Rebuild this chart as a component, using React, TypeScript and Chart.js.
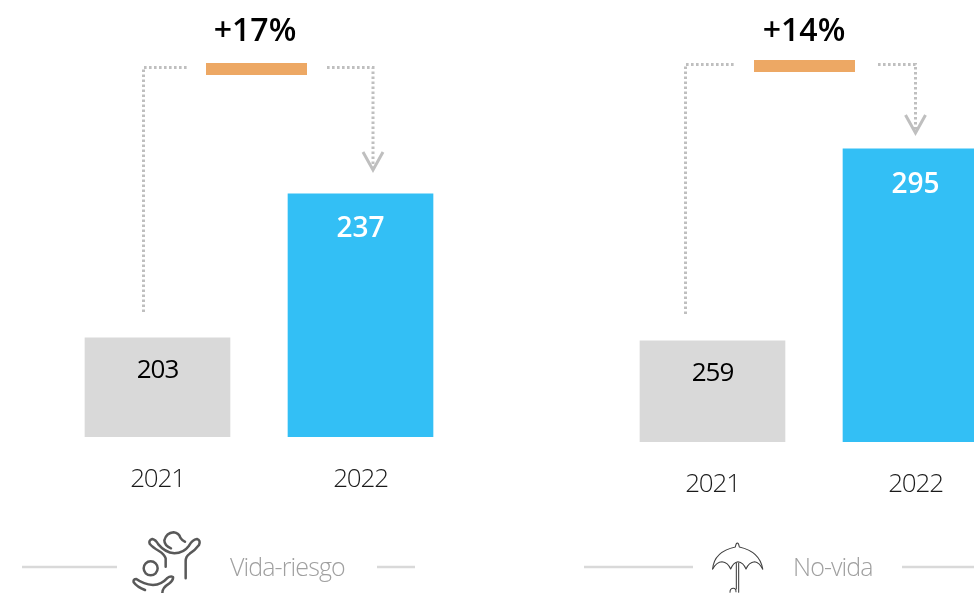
import React, { useEffect, useRef } from "react";
import { Chart, registerables } from "chart.js";

Chart.register(...registerables);

const FONT = '"Open Sans", "Noto Sans", sans-serif';

const categories = ["2021", "2022"];
const vidaValues = [203, 237];
const noVidaValues = [259, 295];
const barColors = ["#D9D9D9", "#33BFF5"];
const labelColors = ["#000000", "#FFFFFF"];
const labelWeights = [400, 600];
const labelSizes = [26, 28];
const labelSpacing = ["-1px", "0px"];
const vidaChange = "+17%";
const noVidaChange = "+14%";
const vidaName = "Vida-riesgo";
const noVidaName = "No-vida";
const vidaRange = [179.6, 282.8];
const noVidaRange = [240.06, 322.9];

type Panel = {
  values: number[];
  range: number[];
  canvasLeft: number;
  canvasWidth: number;
  padLeft: number;
  padRight: number;
  axisHeight: number;
  tickPadding: number;
  change: string;
  changeX: number;
  changeY: number;
  name: string;
  nameX: number;
  rule: number[][];
  orange: number[];
  leftX: number;
  leftBottom: number;
  topY: number;
  leftEnd: number;
  rightStart: number;
  arrowX: number;
  arrowY: number;
  labelOffset: number[];
  icon: (c: CanvasRenderingContext2D) => void;
};

function stroke(c: CanvasRenderingContext2D, d: string) {
  c.stroke(new Path2D(d));
}

function drawPeople(c: CanvasRenderingContext2D) {
  c.save();
  c.translate(125, 525);
  c.scale(1 / 3, 1 / 3);
  c.strokeStyle = "#595959";
  c.lineWidth = 7.5;
  c.lineCap = "round";
  c.lineJoin = "round";
  stroke(c, "M122 125 L122 100 Q118 88 102 78 Q82 66 74 56 Q70 46 82 42 Q92 44 100 58 Q120 82 148 85 Q176 84 192 62 Q202 44 216 42 Q228 46 222 60 Q210 76 194 86 Q182 94 182 108 L182 160");
  stroke(c, "M138 70 Q118 62 118 46 Q124 24 146 22 Q162 24 166 38 Q172 48 180 50");
  c.beginPath();
  c.arc(77, 130, 21, 0, Math.PI * 2);
  c.stroke();
  stroke(c, "M60 195 Q36 186 26 172 Q24 162 34 162 Q56 178 84 180 Q110 178 126 160 Q136 152 144 156 Q146 166 132 176 Q112 188 112 204");
  c.restore();
}

function drawUmbrella(c: CanvasRenderingContext2D) {
  c.save();
  c.translate(700, 535);
  c.scale(1 / 3, 1 / 3);
  c.strokeStyle = "#404040";
  c.lineWidth = 3.2;
  c.lineCap = "round";
  c.lineJoin = "round";
  stroke(c, "M38 102 Q42 50 106 36 Q108 24 112 24 Q116 24 118 36 Q180 50 188 102");
  stroke(c, "M38 102 Q50 80 66 80 Q84 82 92 102 Q100 82 114 80 Q130 82 138 102 Q146 82 164 80 Q178 82 188 102");
  stroke(c, "M109 84 L109 162 M116 84 L116 172");
  stroke(c, "M90 172 Q90 160 100 160 Q108 160 108 170");
  c.restore();
}

const panels: Panel[] = [
  {
    values: vidaValues,
    range: vidaRange,
    canvasLeft: 0,
    canvasWidth: 540,
    padLeft: 56,
    padRight: 78,
    axisHeight: 156,
    tickPadding: 19,
    change: vidaChange,
    changeX: 255,
    changeY: 32,
    name: vidaName,
    nameX: 230,
    rule: [[22, 117], [377, 415]],
    orange: [206, 63, 101, 12],
    leftX: 143.5,
    leftBottom: 312,
    topY: 67.5,
    leftEnd: 187,
    rightStart: 327,
    arrowX: 373,
    arrowY: 170,
    labelOffset: [33, 35],
    icon: drawPeople,
  },
  {
    values: noVidaValues,
    range: noVidaRange,
    canvasLeft: 560,
    canvasWidth: 460,
    padLeft: 51,
    padRight: 3,
    axisHeight: 151,
    tickPadding: 19,
    change: noVidaChange,
    changeX: 804,
    changeY: 32,
    name: noVidaName,
    nameX: 793,
    rule: [[584, 693], [902, 974]],
    orange: [754, 60, 101, 12],
    leftX: 685.5,
    leftBottom: 314,
    topY: 64.5,
    leftEnd: 736,
    rightStart: 878,
    arrowX: 915.5,
    arrowY: 133,
    labelOffset: [33, 36],
    icon: drawUmbrella,
  },
];

function makeChart(canvas: HTMLCanvasElement, p: Panel) {
  const overlay = {
    id: "overlay",
    beforeDraw(chart: any) {
      chart.ctx.letterSpacing = "-1.2px";
    },
    afterDraw(chart: any) {
      const c: any = chart.ctx;
      const meta = chart.getDatasetMeta(0);
      c.save();
      c.textAlign = "center";
      c.textBaseline = "middle";
      meta.data.forEach((bar: any, i: number) => {
        c.fillStyle = labelColors[i];
        c.letterSpacing = labelSpacing[i];
        c.font = `${labelWeights[i]} ${labelSizes[i]}px ${FONT}`;
        c.fillText(String(p.values[i]), bar.x, bar.y + p.labelOffset[i]);
      });
      c.restore();

      c.save();
      c.translate(-p.canvasLeft, 0);
      c.fillStyle = "#000000";
      c.letterSpacing = "0px";
      c.font = `600 32px ${FONT}`;
      c.textAlign = "center";
      c.textBaseline = "middle";
      c.fillText(p.change, p.changeX, p.changeY);

      c.fillStyle = "#EDA864";
      c.fillRect(p.orange[0], p.orange[1], p.orange[2], p.orange[3]);

      c.strokeStyle = "#BFBFBF";
      c.lineWidth = 3;
      c.setLineDash([2.6, 2.4]);
      c.beginPath();
      c.moveTo(p.leftX, p.leftBottom);
      c.lineTo(p.leftX, p.topY);
      c.lineTo(p.leftEnd, p.topY);
      c.moveTo(p.rightStart, p.topY);
      c.lineTo(p.arrowX, p.topY);
      c.lineTo(p.arrowX, p.arrowY - 2);
      c.stroke();
      c.setLineDash([]);
      c.beginPath();
      c.moveTo(p.arrowX - 10, p.arrowY - 18);
      c.lineTo(p.arrowX, p.arrowY);
      c.lineTo(p.arrowX + 10, p.arrowY - 18);
      c.stroke();

      c.strokeStyle = "#D9D9D9";
      c.lineWidth = 2.5;
      p.rule.forEach(([a, b]) => {
        c.beginPath();
        c.moveTo(a, 567);
        c.lineTo(b, 567);
        c.stroke();
      });

      c.fillStyle = "#A0A0A0";
      c.letterSpacing = "-0.9px";
      c.font = `300 25px ${FONT}`;
      c.textAlign = "left";
      c.fillText(p.name, p.nameX, 569);
      c.letterSpacing = "0px";
      p.icon(c);
      c.restore();
    },
  };

  return new Chart(canvas, {
    type: "bar",
    data: {
      labels: categories,
      datasets: [
        {
          data: p.values,
          backgroundColor: barColors,
          borderWidth: 0,
          barThickness: 145,
        },
      ],
    },
    options: {
      responsive: false,
      animation: false,
      layout: { padding: { left: p.padLeft, right: p.padRight, top: 0, bottom: 0 } },
      plugins: { legend: { display: false }, tooltip: { enabled: false } },
      scales: {
        x: {
          grid: { display: false },
          border: { display: false },
          ticks: {
            color: "#1A1A1A",
            padding: p.tickPadding,
            maxRotation: 0,
            font: { family: FONT, size: 26, weight: "300" },
          },
          afterFit(scale: any) {
            scale.height = p.axisHeight;
          },
        },
        y: { display: false, min: p.range[0], max: p.range[1] },
      },
    },
    plugins: [overlay],
  } as any);
}

export default function App() {
  const refs = useRef<(HTMLCanvasElement | null)[]>([]);
  useEffect(() => {
    const charts = panels.map((p, i) => makeChart(refs.current[i]!, p));
    return () => charts.forEach((c) => c.destroy());
  }, []);
  return (
    <div style={{ position: "fixed", left: 0, top: 0, width: 974, height: 593, overflow: "hidden", background: "#fff" }}>
      {panels.map((p, i) => (
        <canvas
          key={p.name}
          ref={(el) => {
            refs.current[i] = el;
          }}
          width={p.canvasWidth}
          height={593}
          style={{ position: "absolute", left: p.canvasLeft, top: 0, display: "block" }}
        />
      ))}
    </div>
  );
}
